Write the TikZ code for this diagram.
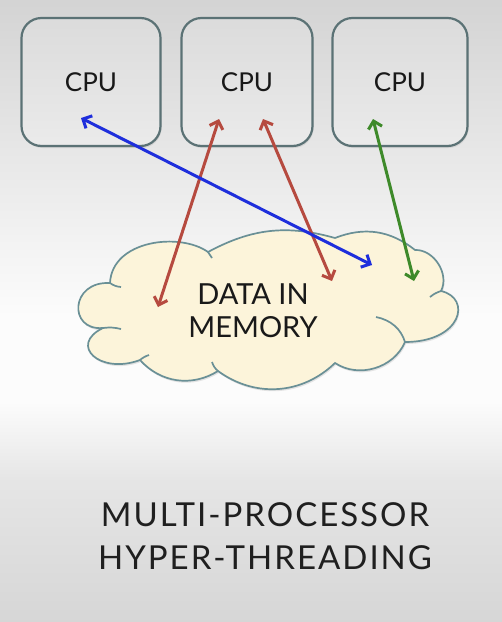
\documentclass[tikz,border=0pt]{standalone}
\usepackage{fontspec}
\setmainfont{Lato}
\usetikzlibrary{arrows.meta,shadows}
\definecolor{boxline}{HTML}{5B7275}
\definecolor{cloudfill}{HTML}{FCF4DA}
\definecolor{cloudline}{HTML}{6A9096}
\definecolor{arrblue}{HTML}{1E2EDC}
\definecolor{arrred}{HTML}{B64A3F}
\definecolor{arrgreen}{HTML}{3E8A2A}
\tikzset{
  cpubox/.style={draw=boxline, line width=2.2pt, rounded corners=20pt,
    top color=black!14, bottom color=black!8, minimum height=128pt,
    font=\fontsize{26}{30}\selectfont, text=black!90,
    drop shadow={opacity=0.18, shadow xshift=1pt, shadow yshift=-2pt}},
  cloudpath/.style={draw=cloudline, line width=1.7pt, fill=cloudfill,
    drop shadow={opacity=0.2, shadow xshift=1pt, shadow yshift=-2pt}},
  cloudinner/.style={draw=cloudline, line width=1.7pt},
  conn/.style={line width=3pt, {Straight Barb[length=7pt,width=14pt,line width=3pt]}-{Straight Barb[length=7pt,width=14pt,line width=3pt]}},
}
\begin{document}
\begin{tikzpicture}[x=1pt,y=-1pt]
\useasboundingbox (0,0) rectangle (502,622);
% background
\shade[top color=black!17, bottom color=black!1] (0,0) rectangle (502,320);
\fill[black!1] (0,320) rectangle (502,400);
\shade[top color=black!1, bottom color=black!10] (0,400) rectangle (502,480);
\shade[top color=black!10, bottom color=black!16] (0,480) rectangle (502,622);
% CPUs
\node[cpubox, minimum width=139pt] (cpu1) at (91,82) {\raisebox{-3pt}{CPU}};
\node[cpubox, minimum width=131pt] (cpu2) at (247,82) {\raisebox{-3pt}{CPU}};
\node[cpubox, minimum width=135pt] (cpu3) at (400,82) {\raisebox{-3pt}{CPU}};
% cloud
\path[cloudpath] (110,283) .. controls (112,240) and (180,232) .. (208,252)
  to[bend left=22] (335,238)
  to[bend left=30] (415,250) to[bend left=60] (441,291)
  .. controls (472,298) and (462,342) .. (405,342)
  to[bend left=50] (335,363) to[bend left=40] (218,371) to[bend left=40] (140,360)
  .. controls (100,375) and (68,345) .. (103,328)
  .. controls (68,331) and (70,281) .. (110,283) -- cycle;
\draw[cloudinner] (110,283) to[bend right=15] (121,287);
\draw[cloudinner] (103,328) to[bend left=10] (121,329);
\draw[cloudinner] (140,360) to[bend left=10] (149,355);
\draw[cloudinner] (218,371) to[bend left=15] (212,362);
\draw[cloudinner] (405,342) .. controls (401,329) and (391,320) .. (376,317);
\draw[cloudinner] (441,291) to[bend right=10] (430,297);
\draw[cloudinner] (208,252) to[bend left=10] (212,258);
\node[font=\fontsize{29}{33}\selectfont, align=center, text=black!90] (mem) at (253,311) {DATA IN\\MEMORY};
% connector ends
\coordinate (b1) at (81,118);
\coordinate (b2) at (372,265);
\coordinate (r1a) at (219,119);
\coordinate (r1b) at (158,307);
\coordinate (r2a) at (263,119);
\coordinate (r2b) at (332,281);
\coordinate (g1) at (373,119);
\coordinate (g2) at (414,281);
\draw[conn, arrred] (r1a) -- (r1b);
\draw[conn, arrred] (r2a) -- (r2b);
\draw[conn, arrgreen] (g1) -- (g2);
\draw[conn, arrblue] (b1) -- (b2);
% caption
\node[font=\fontsize{33}{43}\selectfont\addfontfeature{LetterSpace=6}, align=center, text=black!88] (title) at (265,536) {MULTI-PROCESSOR\\HYPER-THREADING};
\end{tikzpicture}
\end{document}
